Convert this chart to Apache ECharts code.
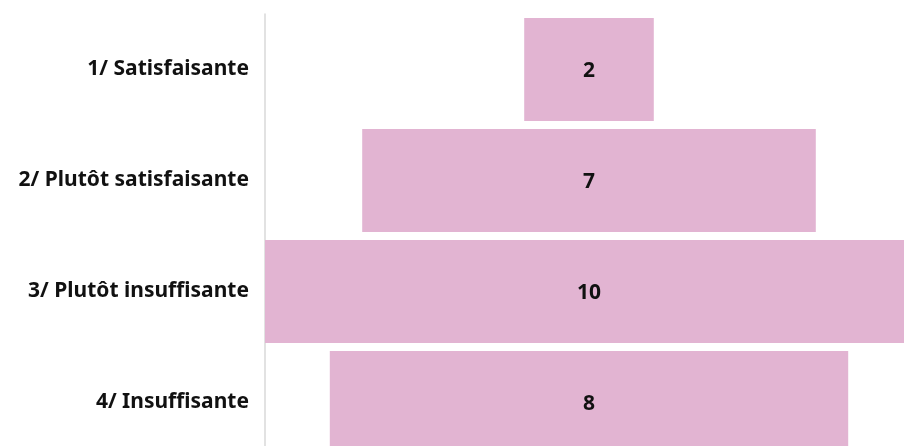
<!DOCTYPE html>
<html><head><meta charset="utf-8">
<script src="https://cdn.jsdelivr.net/npm/echarts@6/dist/echarts.min.js"></script>
<style>html,body{margin:0;padding:0;background:#fff;overflow:hidden;width:904px;height:446px}#c{width:913px;height:458px}</style>
</head><body><div id="c"></div>
<script>
const categories = ["1/ Satisfaisante", "2/ Plutôt satisfaisante", "3/ Plutôt insuffisante", "4/ Insuffisante"];
const values = [2, 7, 10, 8];
const maxValue = 10;
const offsets = values.map(v => (maxValue - v) / 2);

const chart = echarts.init(document.getElementById('c'), null, {renderer: 'canvas'});
chart.setOption({
  animation: false,
  grid: {left: 265, top: 14, right: 0, bottom: 0, containLabel: false},
  xAxis: {type: 'value', min: 0, max: maxValue, show: false},
  yAxis: {
    type: 'category', data: categories, inverse: true,
    axisLine: {show: true, lineStyle: {color: '#d9d9d9', width: 1.5}},
    axisTick: {show: false},
    axisLabel: {color: '#111', fontFamily: 'Noto Sans', fontWeight: 'bold', fontSize: 21, margin: 16, padding: [3, 0, 0, 0]}
  },
  series: [
    {type: 'bar', stack: 's', data: offsets, itemStyle: {color: 'transparent'}, barCategoryGap: '7%', silent: true},
    {type: 'bar', stack: 's', data: values, barCategoryGap: '7%',
     itemStyle: {color: '#E2B4D2'},
     label: {show: true, position: 'inside', offset: [0, 2], color: '#111', fontFamily: 'Noto Sans', fontWeight: 'bold', fontSize: 21}}
  ]
});
</script></body></html>
